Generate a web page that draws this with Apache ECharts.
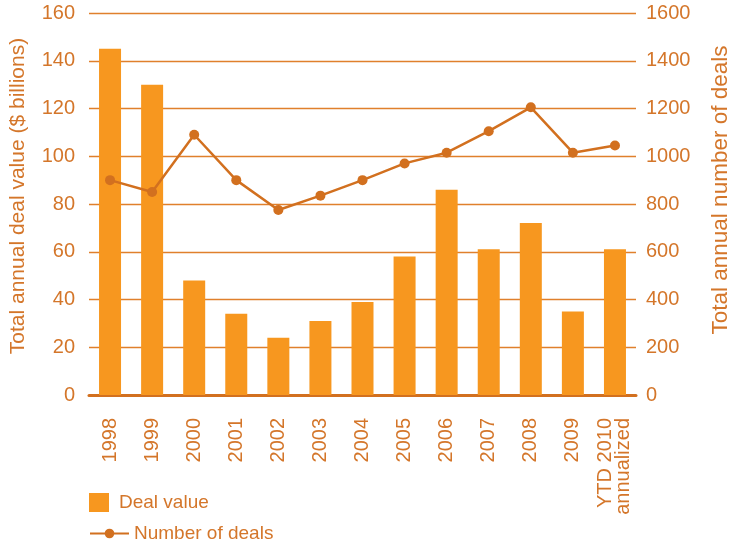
<!DOCTYPE html>
<html>
<head>
<meta charset="utf-8">
<script src="https://cdn.jsdelivr.net/npm/echarts@6/dist/echarts.min.js"></script>
<style>
  html, body { margin: 0; padding: 0; background: #fff; }
  #chart { width: 730px; height: 546px; }
</style>
</head>
<body>
<div id="chart"></div>
<script>
// Years on the category axis
const years = ['1998', '1999', '2000', '2001', '2002', '2003', '2004', '2005', '2006', '2007', '2008', '2009', 'YTD 2010\nannualized'];
// Total annual deal value, $ billions (bars, left axis)
const dealValue = [145, 130, 48, 34, 24, 31, 39, 58, 86, 61, 72, 35, 61];
// Total annual number of deals (line, right axis)
const dealCount = [900, 850, 1090, 900, 775, 835, 900, 970, 1015, 1105, 1205, 1015, 1045];

const textColor = '#D4762A';
const gridColor = '#E0802C';
const barColor = '#F7971F';
const lineColor = '#D2701F';
const fontFamily = 'Liberation Sans, Arial, sans-serif';

const chart = echarts.init(document.getElementById('chart'));
chart.setOption({
  animation: false,
  textStyle: { fontFamily: fontFamily },
  grid: { left: 89, right: 94, top: 13, bottom: 151, containLabel: false, outerBoundsMode: 'none' },
  legend: [
    {
      left: 89,
      top: 493,
      padding: 0,
      itemWidth: 20,
      itemHeight: 19,
      textStyle: { color: textColor, fontSize: 19, fontFamily: fontFamily, padding: [0, 0, 0, 5] },
      data: [{ name: 'Deal value', icon: 'rect' }]
    },
    {
      left: 89,
      top: 524,
      padding: 0,
      itemWidth: 39,
      itemHeight: 12,
      textStyle: { color: textColor, fontSize: 19, fontFamily: fontFamily },
      data: [{ name: 'Number of deals' }]
    }
  ],
  xAxis: {
    type: 'category',
    data: years,
    axisTick: { show: false },
    axisLine: { lineStyle: { color: lineColor, width: 3 } },
    axisLabel: {
      rotate: 90,
      margin: 23,
      color: textColor,
      fontSize: 20,
      lineHeight: 18,
      fontFamily: fontFamily,
      interval: 0
    }
  },
  yAxis: [
    {
      type: 'value',
      min: 0, max: 160, interval: 20,
      name: 'Total annual deal value ($ billions)',
      nameLocation: 'middle',
      nameGap: 60,
      nameTextStyle: { color: textColor, fontSize: 21, fontFamily: fontFamily, padding: [0, 0, 0, 16] },
      axisLine: { show: false },
      axisTick: { show: false },
      axisLabel: { color: textColor, fontSize: 20, margin: 14, fontFamily: fontFamily },
      splitLine: { lineStyle: { color: gridColor, width: 1.4 } }
    },
    {
      type: 'value',
      min: 0, max: 1600, interval: 200,
      name: 'Total annual number of deals',
      nameLocation: 'middle',
      nameGap: 73,
      nameRotate: 90,
      nameTextStyle: { color: textColor, fontSize: 22.5, fontFamily: fontFamily, padding: [0, 0, 0, 28] },
      axisLine: { show: false },
      axisTick: { show: false },
      axisLabel: {
        color: textColor, fontSize: 20, margin: 10, fontFamily: fontFamily,
        formatter: function (v) { return String(v); }
      },
      splitLine: { show: false }
    }
  ],
  series: [
    {
      name: 'Deal value',
      type: 'bar',
      yAxisIndex: 0,
      data: dealValue,
      barWidth: 22,
      itemStyle: { color: barColor }
    },
    {
      name: 'Number of deals',
      type: 'line',
      yAxisIndex: 1,
      data: dealCount,
      symbol: 'circle',
      symbolSize: 10,
      lineStyle: { color: lineColor, width: 2.5 },
      itemStyle: { color: lineColor }
    }
  ]
});
</script>
</body>
</html>
